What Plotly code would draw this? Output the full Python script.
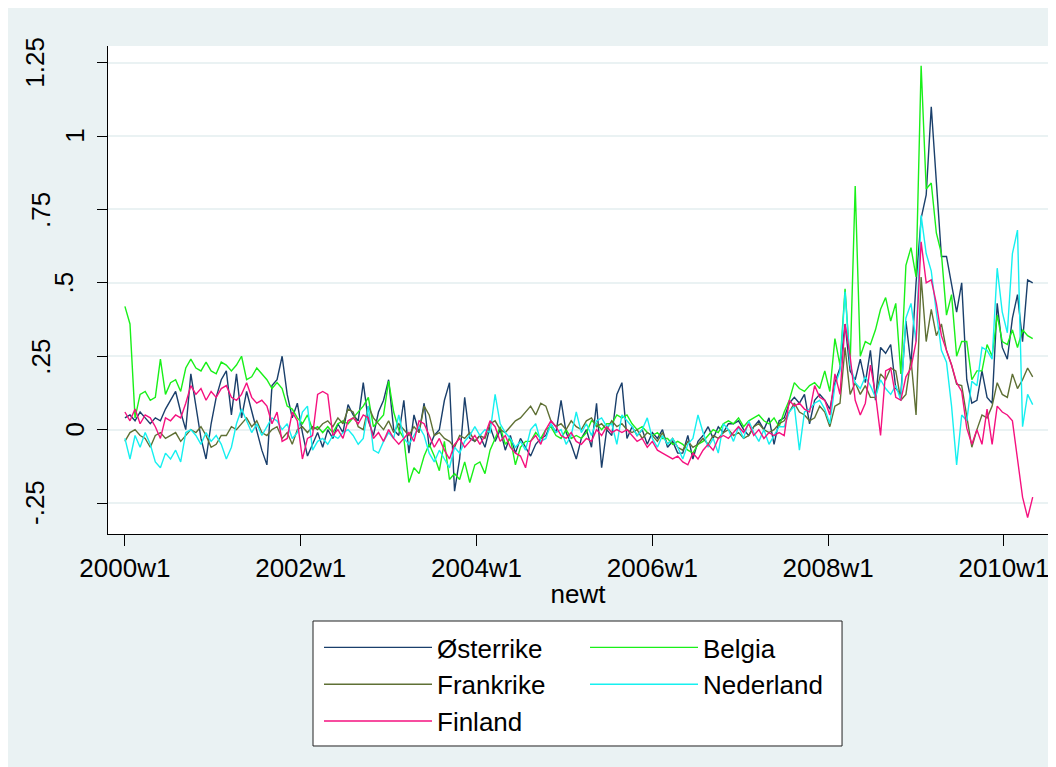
import plotly.graph_objects as go

# Stata weekly dates: 2000w1 = 2080; series sampled every 3 weeks
week0 = 2080
step = 3

tick_weeks = [2080, 2184, 2288, 2392, 2496, 2600]
tick_labels = ["2000w1", "2002w1", "2004w1", "2006w1", "2008w1", "2010w1"]
y_ticks = [-0.25, 0, 0.25, 0.5, 0.75, 1, 1.25]
y_labels = ["-.25", "0", ".25", ".5", ".75", "1", "1.25"]

osterrike = [
    .04, .05, .03, .06, .04, .02, .04, .03, .07, .10,
    .13, .06, .00, .19, .08, -.03, -.10, .02, .11, .17,
    .20, .05, .19, .04, .13, .06, -.01, -.07, -.12, .15,
    .17, .25, .12, .04, .09, -.01, -.09, -.05, -.01, -.06,
    .00, -.03, .02, -.01, .085, .05, .03, .16, .03, -.02,
    .06, .10, .17, .00, -.02, .10, -.08, .05, -.01, .09,
    -.06, -.02, .00, .10, .16, -.21, -.10, .11, -.03, -.04,
    -.02, -.06, .01, -.04, .00, -.07, -.02, -.08, -.03, -.06,
    -.09, -.05, -.03, -.02, .02, -.01, .10, -.01, -.05, -.10,
    -.03, .00, -.06, .09, -.13, .00, -.02, .12, .16, -.03,
    .01, -.02, .00, -.05, -.01, -.03, .00, -.06, -.04, -.08,
    -.08, -.02, -.10, -.04, -.02, .01, -.03, .01, -.01, .02,
    .02, .03, .00, -.02, .01, .03, .00, .04, -.05, .03,
    .04, .09, .11, .09, .12, .02, .10, .12, .10, .07,
    .16, .21, .36, .20, .17, .24, .16, .27, .10, .28,
    .26, .29, .14, .12, .37, .22, .50, .72, .80, 1.10,
    .85, .59, .59, .50, .40, .50, .17, .09, .10, .20,
    .11, .09, .43, .28, .24, .38, .46, .30, .51, .50,
]

belgia = [
    .42, .36, .04, .12, .13, .10, .11, .24, .12, .16,
    .17, .13, .21, .24, .21, .20, .23, .20, .19, .23,
    .22, .20, .22, .25, .17, .18, .21, .19, .17, .14,
    .16, .14, .08, .07, .04, .02, .05, .00, .01, -.01,
    .01, -.01, .02, .03, .02, .04, .06, .08, .11, .01,
    .03, .05, .165, .06, .00, -.03, -.18, -.13, -.15, -.09,
    -.05, -.09, -.14, -.04, -.17, -.15, -.17, -.11, -.18, -.12,
    -.11, -.15, -.07, -.03, .01, -.05, -.03, -.12, -.06, -.04,
    -.04, -.01, -.03, .00, .01, -.02, -.03, .00, -.03, -.02,
    -.03, -.01, .03, .02, .00, .02, .02, .05, .04, .05,
    .02, .00, .01, -.01, -.02, -.01, -.03, -.03, -.05, -.04,
    -.05, -.07, -.08, -.05, -.04, -.02, .00, -.01, .02, .03,
    .02, .04, .01, .03, .04, .05, .03, .02, .04, .01,
    .06, .10, .16, .14, .13, .15, .16, .14, .20, .13,
    .31, .22, .48, .22, .83, .25, .30, .29, .34, .41,
    .45, .37, .43, .19, .56, .62, .52, 1.24, .82, .84,
    .67, .60, .39, .46, .25, .30, .30, .17, .20, .20,
    .29, .25, .39, .30, .29, .34, .28, .34, .32, .31,
]

frankrike = [
    -.04, -.01, .00, -.02, -.03, -.06, -.02, -.01, -.03, -.02,
    -.01, -.04, -.02, .00, -.01, .01, -.02, -.06, -.05, -.02,
    -.02, .01, .00, .02, .04, .01, .03, -.01, -.02, .00,
    .01, -.03, -.01, -.05, .00, .01, -.01, .01, .00, .02,
    .03, .01, .04, .02, .07, .06, .01, .00, .08, .04,
    .02, .00, .03, -.01, .02, .00, -.02, .01, -.01, .08,
    .05, -.02, -.01, -.03, -.04, -.06, -.02, -.03, -.01, -.04,
    -.02, -.03, .02, .03, .00, -.01, .01, .03, .04, .06,
    .08, .05, .09, .08, .03, .01, .02, .00, .03, .01,
    .00, .03, .04, .01, .02, .00, .03, .01, .02, .00,
    -.01, .00, -.03, -.01, -.02, -.04, -.01, -.05, -.03, -.06,
    -.07, -.04, -.06, -.05, -.03, -.05, -.02, -.03, -.01, .00,
    -.02, -.01, -.03, -.02, .01, .02, .00, -.01, .00, .02,
    .03, .06, .09, .06, .05, .03, .04, .08, .06, .01,
    .08, .09, .28, .12, .16, .12, .15, .11, .11, .19,
    .17, .21, .20, .10, .12, .24, .05, .52, .30, .41,
    .32, .36, .27, .22, .155, .15, .04, -.06, .00, .05,
    .04, .08, .16, .12, .11, .19, .14, .17, .21, .18,
]

nederland = [
    -.03, -.10, -.02, -.06, -.01, -.05, -.11, -.13, -.08, -.10,
    -.07, -.11, -.01, .00, -.02, -.05, -.01, -.04, -.02, -.05,
    -.10, -.06, .02, .07, .03, -.01, .02, -.02, .01, .04,
    .03, .00, .02, -.03, -.01, .06, .08, -.07, -.04, -.03,
    -.05, -.02, -.03, -.01, .00, -.02, -.05, -.03, .08, -.07,
    -.08, -.04, -.01, -.03, .05, -.03, -.05, -.02, .01, -.02,
    -.08, -.11, -.07, -.10, -.13, -.06, -.08, -.04, -.02, .01,
    -.02, .00, -.01, .12, .02, -.01, -.03, -.06, -.04, -.07,
    .00, .02, -.04, -.03, .02, -.01, .00, -.05, -.02, .06,
    -.01, .02, -.02, .03, .04, .01, .02, -.05, .05, .03,
    .01, -.02, .00, .04, -.03, -.06, -.02, -.05, -.03, -.06,
    -.10, -.05, -.03, .05, -.01, -.06, -.03, -.08, .02, .00,
    -.04, .01, -.03, .03, -.01, -.04, .00, -.05, -.02, .01,
    .01, .06, .08, -.07, .06, .07, .09, .10, .07, .02,
    .15, .20, .47, .22, .16, .14, .18, .15, .11, .17,
    .14, .12, .15, .10, .38, .43, .30, .73, .60, .54,
    .40, .27, .23, .08, -.12, .05, .03, .165, .15, .28,
    .27, .24, .55, .40, .33, .60, .68, .01, .12, .085,
]

finland = [
    .06, .03, .07, .02, .05, .04, .01, -.03, .04, .03,
    .05, .04, .09, .15, .12, .14, .10, .13, .11, .14,
    .15, .11, .10, .12, .16, .11, .09, .10, .08, .02,
    .06, -.04, -.03, .06, .03, -.10, -.03, -.02, .12, .13,
    .12, -.02, .00, -.03, .03, .04, .02, .05, .04, -.03,
    -.01, -.04, .00, -.03, -.05, -.03, -.01, -.04, .03, .02,
    -.02, -.06, -.03, -.07, -.10, -.05, -.03, -.06, -.04, -.02,
    -.05, -.02, .03, .01, -.04, -.02, -.06, -.08, -.09, -.13,
    -.04, -.02, -.05, .00, .03, .01, -.02, -.03, -.01, -.04,
    -.05, -.03, -.04, .00, -.02, .01, -.01, .00, -.01, .00,
    -.02, -.04, -.03, -.06, -.04, -.07, -.08, -.09, -.10, -.09,
    -.11, -.12, -.08, -.10, -.07, -.05, -.07, -.03, -.02, -.03,
    -.01, .01, -.01, .02, -.02, .00, -.03, -.01, -.02, -.01,
    -.02, .10, .08, .09, .07, .06, .15, .11, .10, .05,
    .19, .12, .36, .25, .10, .05, .09, .22, .12, -.02,
    .20, .21, .11, .10, .18, .21, .30, .64, .50, .51,
    .43, .32, .27, .22, .16, .13, .005, -.05, .00, -.05,
    .07, -.05, .08, .06, .05, .03, -.10, -.23, -.30, -.23,
]

n = len(osterrike)
assert all(len(s) == n for s in (belgia, frankrike, nederland, finland))
weeks = [week0 + step * i for i in range(n)]

series = [
    ("Østerrike", osterrike, "#1a3f6b", "legend"),
    ("Belgia", belgia, "#19f019", "legend2"),
    ("Frankrike", frankrike, "#5f7035", "legend"),
    ("Nederland", nederland, "#16f0f0", "legend2"),
    ("Finland", finland, "#f5117f", "legend"),
]

FONT = "Liberation Sans, Arial, Helvetica, sans-serif"
FS = 26
BG = "#eaf2f3"
M_L, M_R, M_T, M_B = 100, 16, 38, 241
PLOT_W = 1056 - M_L - M_R

fig = go.Figure()
for name, vals, color, leg in series:
    fig.add_trace(go.Scatter(
        x=weeks, y=vals, mode="lines", name=name,
        line=dict(color=color, width=1.4),
        legend=leg, legendgroup=name,
    ))

# legend frame spanning both legend columns
fig.add_shape(type="rect", xref="paper", yref="paper",
              x0=0.2181, x1=0.7809, y0=-0.4344, y1=-0.1783,
              line=dict(color="#222222", width=1), fillcolor="white", layer="below")

# Stata-style rotated y labels: placed as if right-justified horizontally,
# then turned about their own centre (longer labels sit further left).
em = {".": 0.278, "-": 0.333}
def label_center_px(txt):
    w = sum(em.get(c, 0.556) for c in txt)
    return max(27.0, 89.0 - 40.0 * w)

for val, txt in zip(y_ticks, y_labels):
    fig.add_annotation(
        x=(label_center_px(txt) - M_L) / PLOT_W, xref="paper",
        y=val, yref="y", text=txt, textangle=-90, showarrow=False,
        xanchor="center", yanchor="middle",
        font=dict(family=FONT, size=FS, color="black"),
    )

legend_common = dict(
    orientation="v", xanchor="left", yanchor="top",
    bgcolor="rgba(0,0,0,0)", borderwidth=0,
    font=dict(family=FONT, size=FS, color="black"),
    tracegroupgap=0, itemwidth=108,
)

fig.update_layout(
    width=1056, height=767,
    paper_bgcolor=BG, plot_bgcolor="white",
    margin=dict(l=M_L, r=M_R, t=M_T, b=M_B, autoexpand=False),
    font=dict(family=FONT, size=FS, color="black"),
    showlegend=True,
    legend=dict(x=(311 - M_L) / PLOT_W, y=-0.1844, **legend_common),
    legend2=dict(x=(577 - M_L) / PLOT_W, y=-0.1844, **legend_common),
    xaxis=dict(
        range=[2070.0, 2626.05], tickmode="array", tickvals=tick_weeks, ticktext=tick_labels,
        ticks="outside", ticklen=11, tickcolor="black", tickwidth=1,
        showline=True, linecolor="black", linewidth=1, mirror=False,
        showgrid=False, zeroline=False, automargin=False,
        tickfont=dict(family=FONT, size=FS, color="black"),
        title=dict(text="newt", font=dict(family=FONT, size=FS, color="black"), standoff=2),
    ),
    yaxis=dict(
        range=[-0.3556, 1.307], tickmode="array", tickvals=y_ticks, ticktext=y_labels,
        showticklabels=False, ticks="outside", ticklen=10, tickcolor="black", tickwidth=1,
        showline=True, linecolor="black", linewidth=1, automargin=False,
        showgrid=True, gridcolor=BG, gridwidth=2, zeroline=False,
    ),
)

fig.write_html("out.html")
